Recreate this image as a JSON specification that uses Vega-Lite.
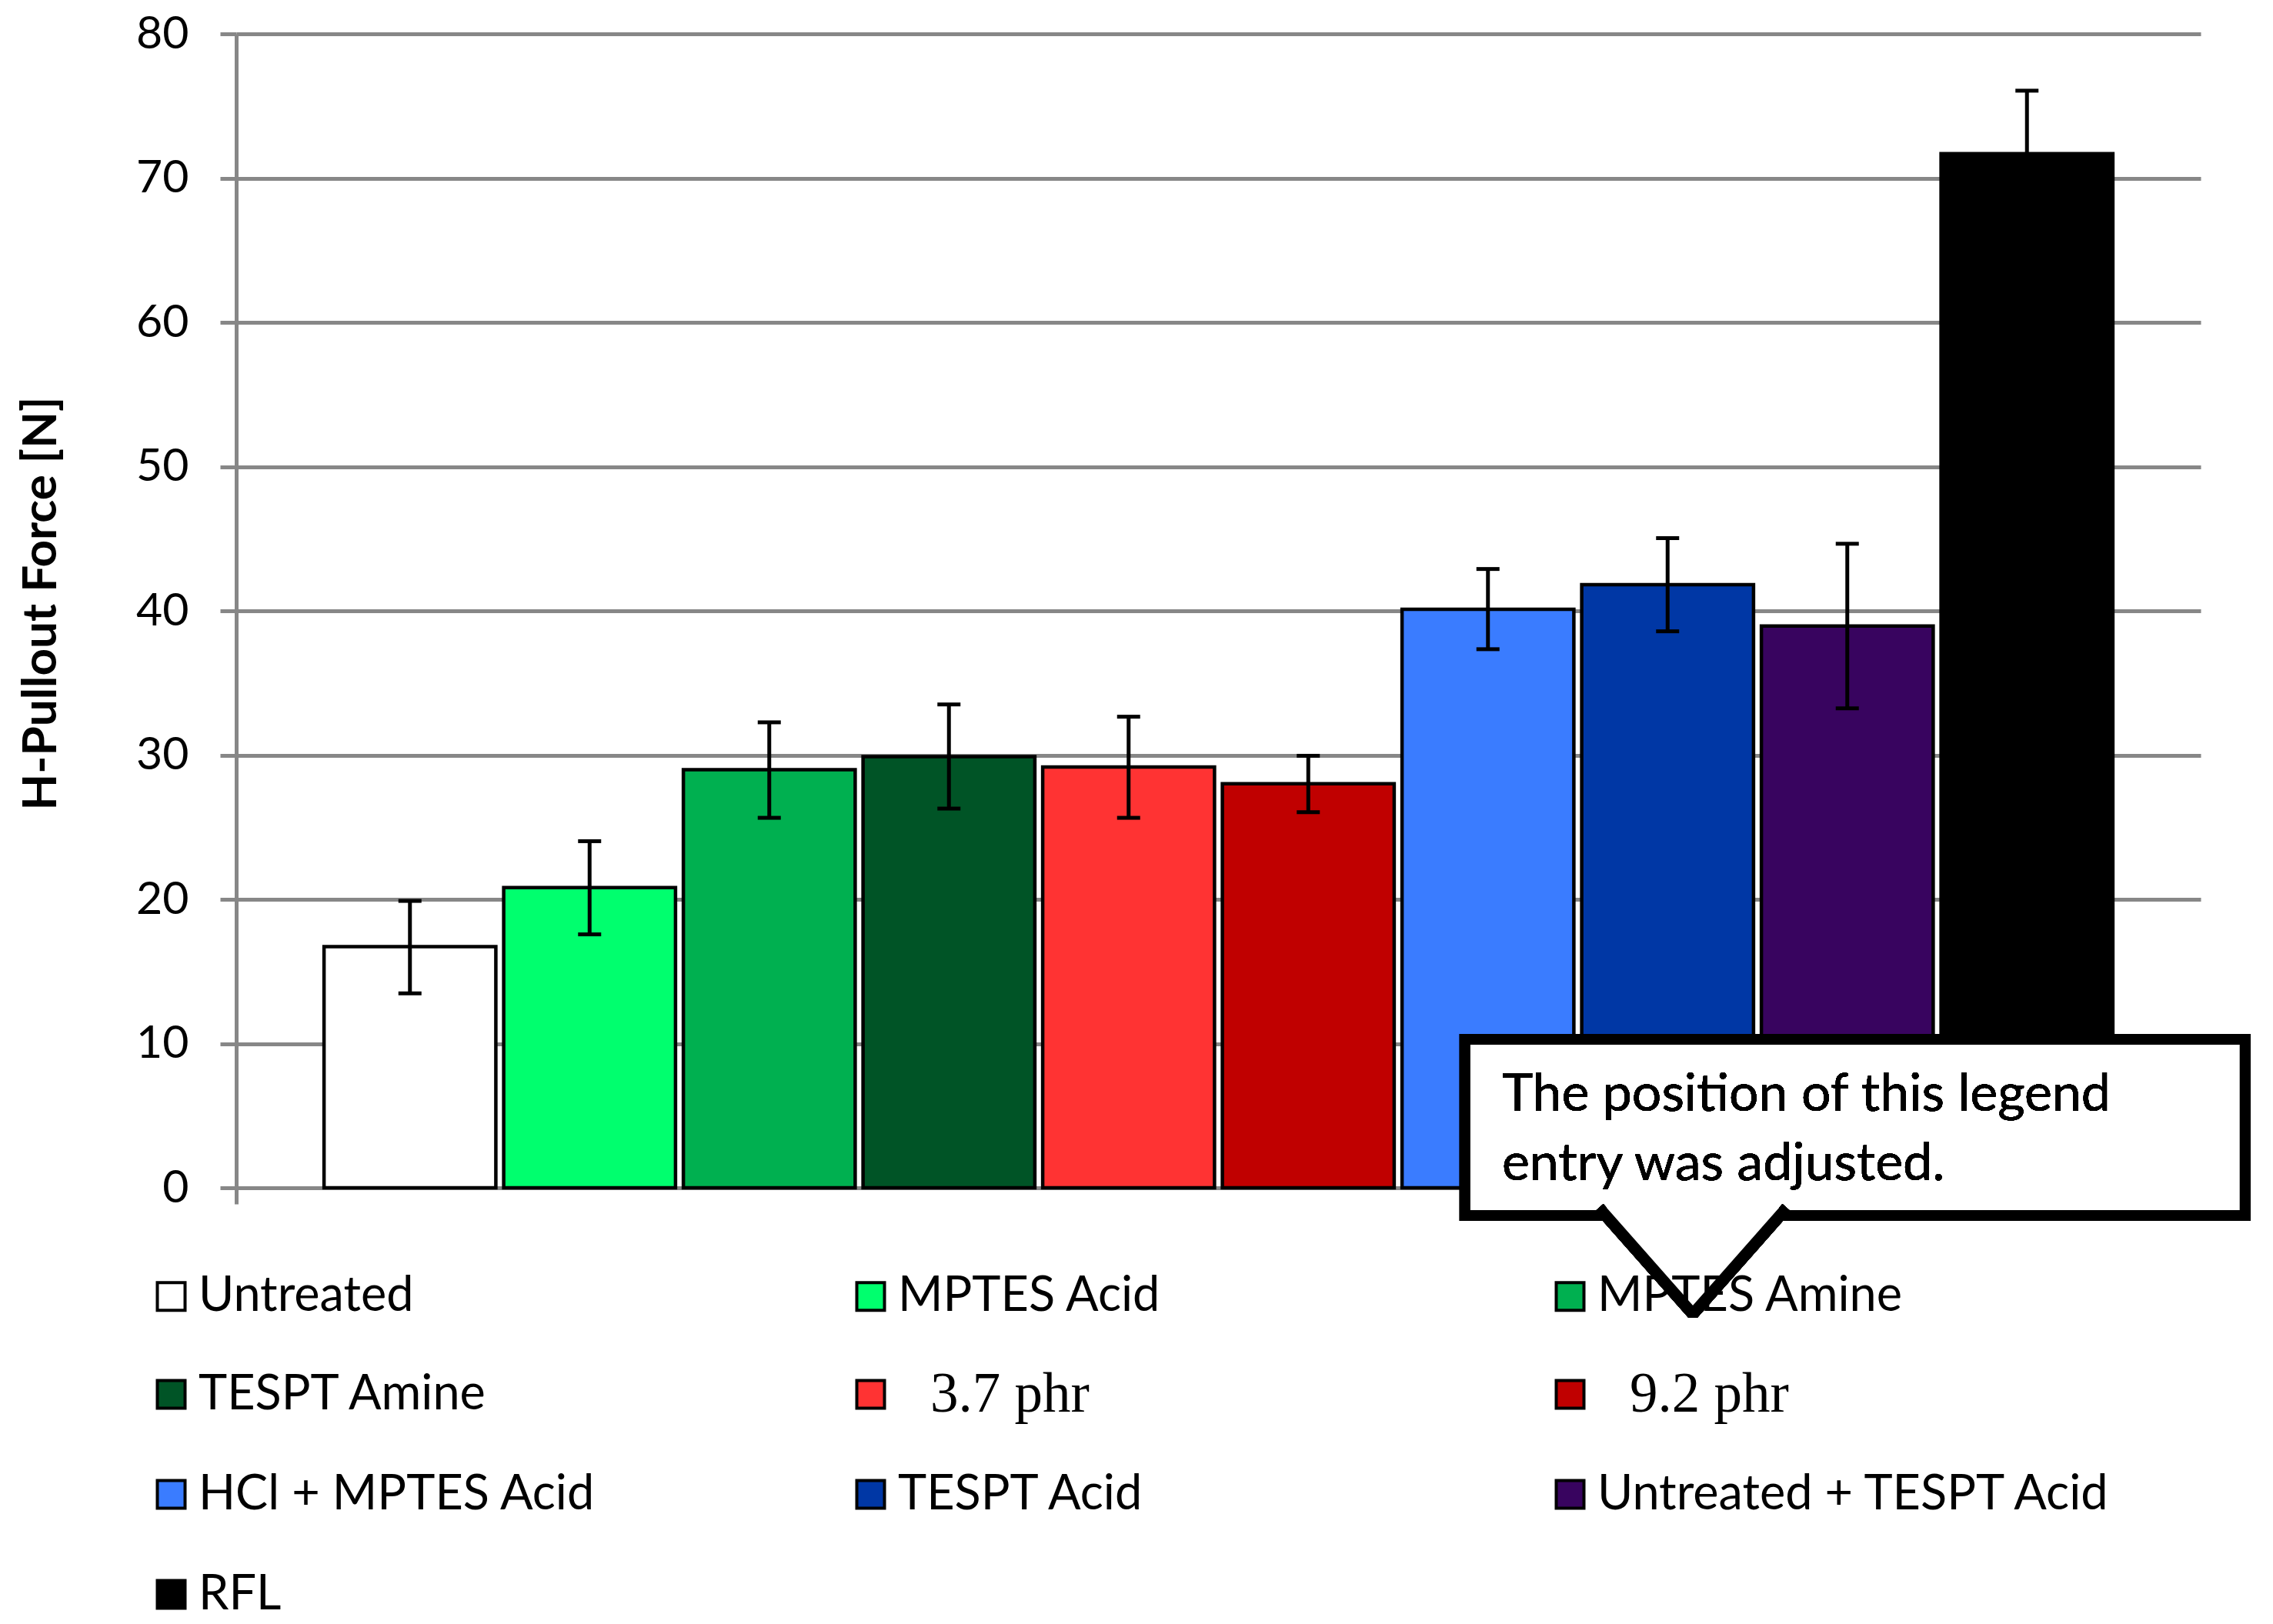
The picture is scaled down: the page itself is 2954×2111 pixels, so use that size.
{
  "$schema": "https://vega.github.io/schema/vega-lite/v6.json",
  "width": 2553,
  "height": 1500,
  "autosize": {"type": "none"},
  "padding": {"left": 307, "top": 44, "right": 94, "bottom": 567},
  "background": "white",
  "config": {"view": {"stroke": null}, "font": "Lato"},
  "data": {
    "values": [
      {"treatment": "Untreated", "force": 16.72, "lo": 13.48, "hi": 19.89},
      {"treatment": "MPTES Acid", "force": 20.81, "lo": 17.57, "hi": 24.03},
      {"treatment": "MPTES Amine", "force": 28.99, "lo": 25.65, "hi": 32.27},
      {"treatment": "TESPT Amine", "force": 29.9, "lo": 26.29, "hi": 33.51},
      {"treatment": "3.7 phr", "force": 29.17, "lo": 25.65, "hi": 32.66},
      {"treatment": "9.2 phr", "force": 28.01, "lo": 26.04, "hi": 29.95},
      {"treatment": "HCl + MPTES Acid", "force": 40.11, "lo": 37.34, "hi": 42.9},
      {"treatment": "TESPT Acid", "force": 41.82, "lo": 38.58, "hi": 45.04},
      {"treatment": "Untreated + TESPT Acid", "force": 38.95, "lo": 33.24, "hi": 44.65},
      {"treatment": "RFL", "force": 71.7, "lo": 67.35, "hi": 76.06}
    ]
  },
  "layer": [
    {
      "layer": [
        {
          "mark": {"type": "bar", "stroke": "black", "strokeWidth": 4.5},
          "encoding": {
            "x": {
              "field": "treatment", "type": "nominal", "sort": null, "axis": null,
              "scale": {"paddingInner": 0.0437, "paddingOuter": 0.4887}
            },
            "y": {
              "field": "force", "type": "quantitative",
              "title": "H-Pullout Force [N]",
              "scale": {"domain": [0, 80]},
              "axis": {
                "values": [0, 10, 20, 30, 40, 50, 60, 70, 80],
                "grid": true, "gridColor": "#878787", "gridWidth": 5,
                "domainColor": "#878787", "domainWidth": 5,
                "tickColor": "#878787", "tickWidth": 5, "tickSize": 21,
                "labelFont": "Lato", "labelFontSize": 59, "labelColor": "black", "labelPadding": 41,
                "titleFont": "Lato", "titleFontWeight": "bold", "titleFontSize": 62, "titleColor": "black",
                "titleX": -235, "titleY": 740, "titleAngle": 270,
                "titleAlign": "center", "titleBaseline": "alphabetic"
              }
            },
            "color": {
              "field": "treatment", "type": "nominal", "sort": null,
              "scale": {
                "domain": ["Untreated", "MPTES Acid", "MPTES Amine", "TESPT Amine", "3.7 phr", "9.2 phr", "HCl + MPTES Acid", "TESPT Acid", "Untreated + TESPT Acid", "RFL"],
                "range": ["#FFFFFF", "#00FF6E", "#00B050", "#005426", "#FF3333", "#C00000", "#3A7CFF", "#0037A5", "#38045F", "#000000"]
              },
              "legend": {
                "orient": "none", "legendX": -116, "legendY": 1607,
                "direction": "horizontal",
                "columns": 3, "title": null, "padding": 0,
                "gridAlign": "all", "columnPadding": 172, "rowPadding": 56,
                "symbolType": "square", "symbolSize": 1296,
                "symbolStrokeColor": "black", "symbolStrokeWidth": 4,
                "labelFont": "Lato", "labelFontSize": 63, "labelColor": "black",
                "labelOffset": 4, "labelLimit": 1200,
                "encode": {
                  "symbols": {"update": {"stroke": {"value": "black"}, "strokeWidth": {"value": 4}}},
                  "labels": {
                    "update": {
                      "font": {"signal": "datum.value === '3.7 phr' || datum.value === '9.2 phr' ? 'Liberation Serif' : 'Lato'"},
                      "fontSize": {"signal": "datum.value === '3.7 phr' || datum.value === '9.2 phr' ? 73 : 63"},
                      "dx": {"signal": "datum.value === '3.7 phr' || datum.value === '9.2 phr' ? 42 : 0"}
                    }
                  }
                }
              }
            }
          }
        },
        {
          "mark": {"type": "rule", "color": "black", "strokeWidth": 5},
          "encoding": {
            "x": {"field": "treatment", "type": "nominal", "sort": null, "axis": null},
            "y": {"field": "lo", "type": "quantitative", "title": "H-Pullout Force [N]", "scale": {"domain": [0, 80]}},
            "y2": {"field": "hi"}
          }
        },
        {
          "mark": {"type": "tick", "color": "black", "size": 30, "thickness": 5, "orient": "horizontal", "opacity": 1},
          "encoding": {
            "x": {"field": "treatment", "type": "nominal", "sort": null, "axis": null},
            "y": {"field": "lo", "type": "quantitative", "title": "H-Pullout Force [N]", "scale": {"domain": [0, 80]}}
          }
        },
        {
          "mark": {"type": "tick", "color": "black", "size": 30, "thickness": 5, "orient": "horizontal", "opacity": 1},
          "encoding": {
            "x": {"field": "treatment", "type": "nominal", "sort": null, "axis": null},
            "y": {"field": "hi", "type": "quantitative", "title": "H-Pullout Force [N]", "scale": {"domain": [0, 80]}}
          }
        }
      ]
    },
    {
      "layer": [
        {
          "mark": {"type": "rect", "fill": "white", "stroke": "black", "strokeWidth": 14},
          "encoding": {
            "x": {
              "datum": 0.6255, "type": "quantitative", "title": null,
              "scale": {"domain": [0, 1], "nice": false},
              "axis": {
                "values": [0, 1], "labels": false, "grid": false, "title": null,
                "domainColor": "#878787", "domainWidth": 5,
                "tickColor": "#878787", "tickWidth": 5, "tickSize": 21
              }
            },
            "x2": {"datum": 1.0226},
            "y": {"datum": 10.3, "type": "quantitative", "title": "H-Pullout Force [N]", "scale": {"domain": [0, 80]}},
            "y2": {"datum": -1.92}
          }
        },
        {
          "mark": {
            "type": "point", "shape": "M-1,-0.566L0,0.566L1,-0.566", "size": 59536,
            "filled": true, "fill": "white", "stroke": "black", "strokeWidth": 15,
            "strokeJoin": "bevel", "opacity": 1
          },
          "encoding": {
            "x": {"datum": 0.7415, "type": "quantitative", "title": null},
            "y": {"datum": -5.07, "type": "quantitative", "title": "H-Pullout Force [N]", "scale": {"domain": [0, 80]}}
          }
        },
        {
          "mark": {
            "type": "text", "text": ["The position of this legend", "entry was adjusted."],
            "font": "Lato", "fontSize": 68, "align": "left", "baseline": "alphabetic",
            "lineHeight": 90, "color": "black"
          },
          "encoding": {
            "x": {"datum": 0.6443, "type": "quantitative", "title": null},
            "y": {"datum": 5.34, "type": "quantitative", "title": "H-Pullout Force [N]", "scale": {"domain": [0, 80]}}
          }
        }
      ]
    }
  ],
  "resolve": {"scale": {"x": "independent"}}
}
